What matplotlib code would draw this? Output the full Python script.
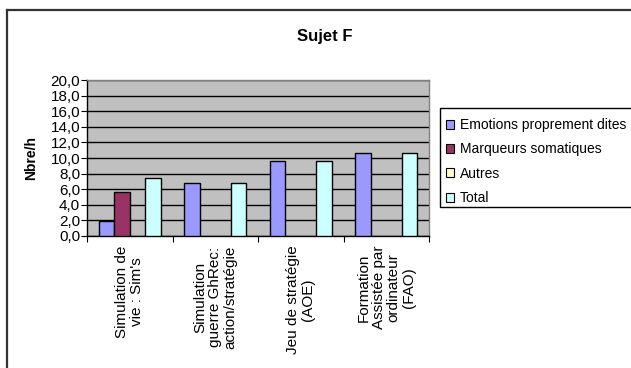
import numpy as np
import matplotlib.pyplot as plt
from matplotlib.lines import Line2D
from matplotlib.patches import Patch, Rectangle
from matplotlib.ticker import FuncFormatter, FixedLocator

plt.rcParams['font.family'] = ['Liberation Sans', 'DejaVu Sans']

categories = ["Simulation de\nvie : Sim's",
              "Simulation\nguerre GhRec:\naction/stratégie",
              "Jeu de stratégie\n(AOE)",
              "Formation\nAssistée par\nordinateur\n(FAO)"]
emotions = [1.9, 6.75, 9.6, 10.7]
marqueurs = [5.6, 0.0, 0.0, 0.0]
autres = [0.0, 0.0, 0.0, 0.0]
total = [7.5, 6.75, 9.6, 10.7]

series = [("Emotions proprement dites", emotions, "#9999FF"),
          ("Marqueurs somatiques", marqueurs, "#993366"),
          ("Autres", autres, "#FFFFCC"),
          ("Total", total, "#CCFFFF")]

fig = plt.figure(figsize=(6.31, 3.68), dpi=100)
ax = fig.add_axes([0.1379, 0.3587, 0.5421, 0.4239])
ax.set_facecolor("#C0C0C0")

# Excel-like layout: gap width 150 % -> each bar is 1/5.5 of a category
w = 1 / 5.5
x = np.arange(len(categories))
for i, (name, vals, col) in enumerate(series):
    left = x + 0.75 * w + i * w
    bars = ax.bar(left, vals, width=w, align="edge", color=col,
                  edgecolor="black", linewidth=1.0, zorder=3)
    for b, v in zip(bars, vals):
        if v == 0:
            b.set_linewidth(0)

ax.set_xlim(0, len(categories))
ax.set_ylim(0, 20)
ax.yaxis.set_major_locator(FixedLocator(np.arange(0, 21, 2)))
ax.yaxis.set_major_formatter(FuncFormatter(lambda v, p: f"{v:.1f}".replace(".", ",")))
ax.grid(axis="y", color="black", linewidth=1.0, zorder=1)

ax.set_xticks(np.arange(len(categories) + 1))
ax.set_xticklabels([])
ax.set_xticks(x + 0.5, minor=True)
ax.set_xticklabels(categories, minor=True, rotation=90, ha="center", va="top",
                   multialignment="center", fontsize=11, linespacing=1.1)
ax.tick_params(axis="x", which="minor", length=0, pad=7)
ax.tick_params(axis="x", which="major", length=4, direction="out", color="black")
ax.tick_params(axis="y", length=4, direction="out", labelsize=11, pad=1)

for s in ["left", "bottom"]:
    ax.spines[s].set_color("black")
    ax.spines[s].set_linewidth(1.0)
for s in ["top", "right"]:
    ax.spines[s].set_color("#808080")
    ax.spines[s].set_linewidth(1.0)

ax.set_ylabel("Nbre/h", fontsize=10, fontweight="bold", labelpad=9)
fig.text(0.514, 0.90, "Sujet F", ha="center", va="center",
         fontsize=12, fontweight="bold")

# legend: box runs past the right edge of the chart
handles = [Patch(facecolor=c, edgecolor="black", linewidth=0.8) for _, _, c in series]
fig.legend(handles, [s[0] for s in series], loc="upper left",
           bbox_to_anchor=(0.699, 0.692), fontsize=10, frameon=False,
           handlelength=0.6, handleheight=0.6, handletextpad=0.4,
           labelspacing=0.74, borderpad=0.35, borderaxespad=0)
fig.add_artist(Rectangle((0.697, 0.4375), 0.4, 0.269, transform=fig.transFigure,
                         facecolor="white", edgecolor="black", linewidth=1.0,
                         zorder=-1))

# outer chart frame (only top and left edges fall inside the image)
fig.add_artist(Line2D([0.0111, 0.0111], [0, 0.9728], color="#333333", linewidth=1.6))
fig.add_artist(Line2D([0.0111, 1.0], [0.9728, 0.9728], color="#333333", linewidth=1.6))

fig.savefig("out.png", dpi=100)
